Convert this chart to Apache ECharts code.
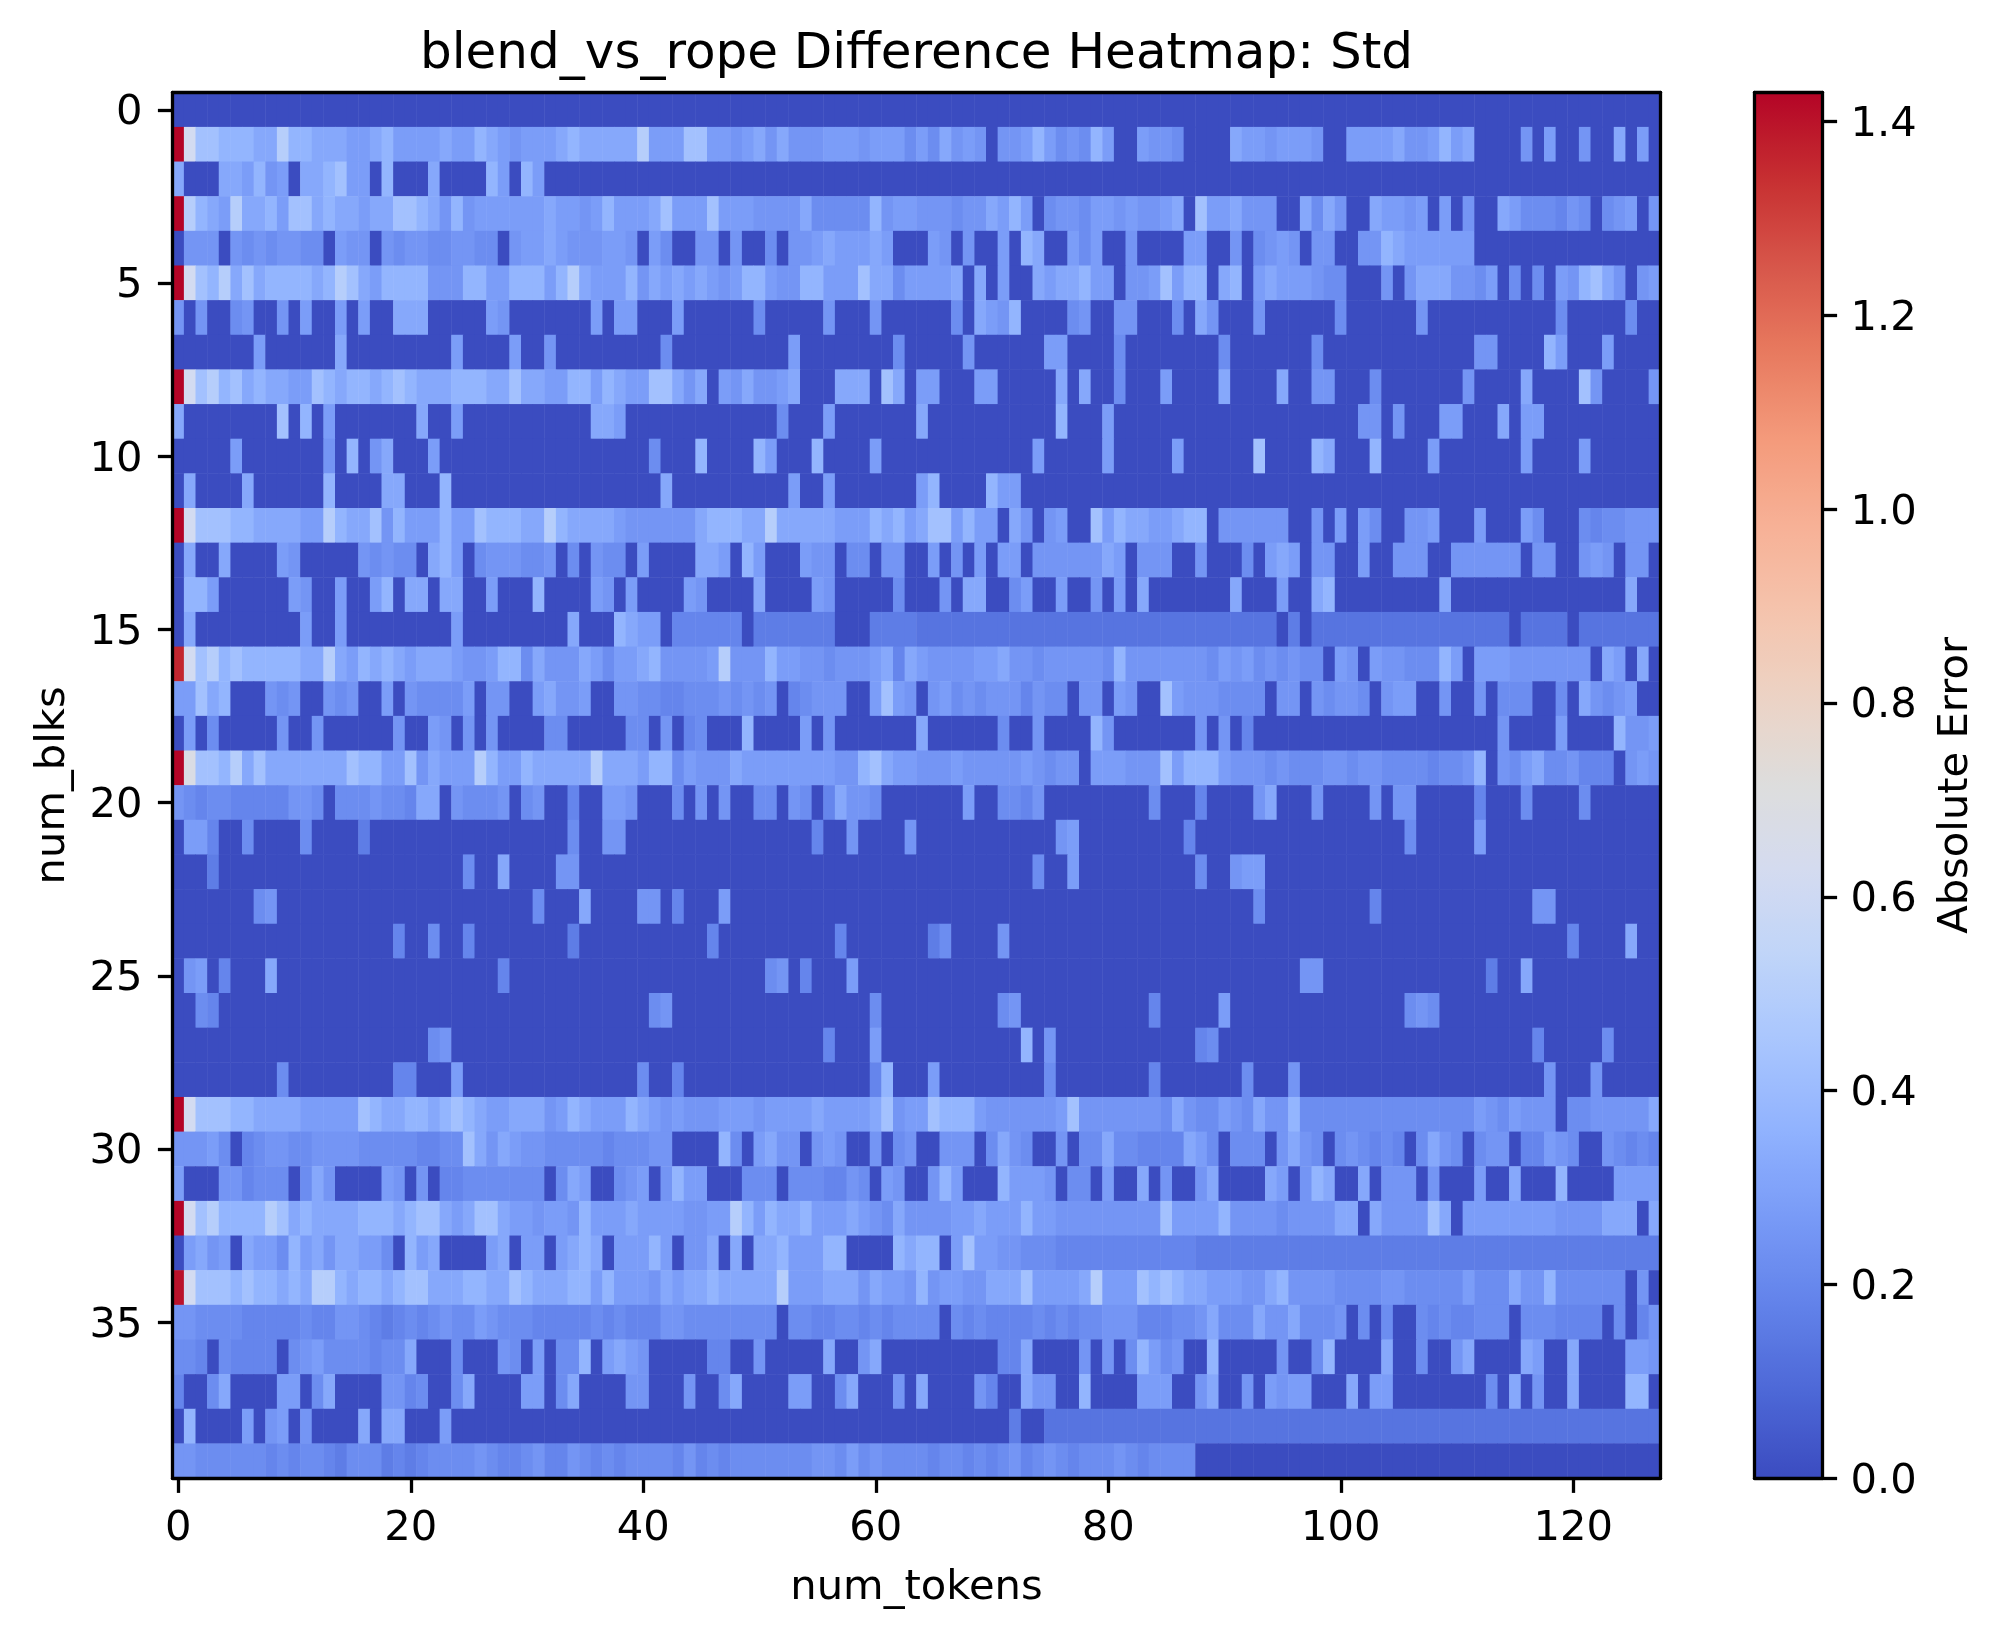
<!DOCTYPE html>
<html><head><meta charset="utf-8">
<style>html,body{margin:0;padding:0;background:#fff}#c{width:2006px;height:1639px}</style>
<script src="https://cdn.jsdelivr.net/npm/echarts@6/dist/echarts.min.js"></script>
</head><body><div id="c"></div>
<script>
// Each character is one cell; levelValues gives its estimated value.
const levelValues = {'0':0,'1':0.13,'2':0.16,'3':0.19,'4':0.22,'5':0.25,'6':0.28,'7':0.32,'8':0.37,'9':0.43,'a':0.5,'b':0.62,'c':0.68,'Q':1.36,'P':1.4,'R':1.43};
const blk00 = "00000000 00000000 00000000 00000000 00000000 00000000 00000000 00000000 00000000 00000000 00000000 00000000 00000000 00000000 00000000 00000000";
const blk01 = "Rb998887 7a887776 67866667 66876566 67877777 a6669966 56757555 66656664 64756505 56864548 60065540 00076656 66500666 67556867 00005060 05007060";
const blk02 = "70007768 56077896 60800070 00086086 00000000 00000000 00000000 00000000 00000000 00000000 00000000 00000000 00000000 00000000 00000000 00000000";
const blk03 = "Ra876a77 86997877 67799875 85666666 76656866 67966696 66555574 44448566 55545576 86045546 65655670 96675550 07475007 66560605 00764443 54045605";
const blk04 = "05550545 45544065 50545544 55440566 76555665 06400550 50040556 76667600 06505006 08700646 00500006 60050456 50550055 87666666 00000000 00000000";
const blk05 = "Rb98a797 888878a9 76888855 58866888 68a76668 57676765 68865588 66697746 66670706 00767786 60556968 80780676 66544000 50577755 46040406 58975056";
const blk06 = "50500450 05060060 60077700 00065000 00006066 00060000 00400000 50005000 00040765 80000450 05500040 75000500 00004000 00050000 00000004 00000400";
const blk07 = "00000006 00000070 00000000 60000600 50000000 00400000 00000600 00000040 00005000 00066000 04000000 00400000 00400000 00000000 55000086 00060000";
const blk08 = "Rb9a8978 77669878 87898777 88877977 66886876 69975706 57556700 07770970 66000660 00007070 04000600 00700007 00550004 00000005 00007000 09500005";
const blk09 = "70000000 09080600 00000700 60000000 00007760 00000000 00004000 60000000 70000000 00008000 60000000 00000000 00000055 05000660 00706600 00000000";
const blk10 = "00000600 00000508 05700060 00000000 00000000 04000800 00860008 00006000 00000000 00600000 60000060 00000900 00870008 00006000 00006000 06000000";
const blk11 = "07000070 00000800 00770008 00000000 00000000 00700000 00000600 60000000 68000086 60000000 00000000 00000000 00000000 00000000 00000000 00000000";
const blk12 = "Rb999887 77766a87 79586668 66988877 a8777765 55555788 877a7777 76668786 79968660 75056009 68776678 80555555 00506064 00556000 60006400 04344555";
const blk13 = "07007000 06500000 54544078 60455544 50405440 60000776 08600065 50440550 06050606 60555555 76055500 50004067 60550060 05550055 55550550 05650550";
const blk14 = "08860000 00650060 06807707 70060008 00006506 00006500 00700006 50000040 00507700 46006005 06070000 00070006 00780000 00000700 00000000 00000700";
const blk15 = "07000000 00060060 00000000 60000000 00700087 66033333 30222222 20002222 11111111 11111111 11111111 11111110 20111111 11111111 11101111 01111111";
const blk16 = "Qb9a8988 88877a76 87876777 65568847 55576466 7855556a 55586655 45556737 65555667 55455555 48555555 54656454 54406506 55444860 66655555 55076070";
const blk17 = "66978000 54500545 00605444 46055006 75560055 44334445 45450345 55006965 05645455 53544055 06500965 55444405 50545540 56600500 50444004 07545600";
const blk18 = "06040000 05005000 00050065 05050000 44000004 40503400 08000060 50000000 70000004 00500008 50000000 50503000 00000000 00000000 00500006 00008556";
const blk19 = "Rc998a79 77777779 88669576 66a86687 7777a777 68846555 76666666 65589766 55565555 56545506 66555968 88655545 44455455 44443445 80546744 53330565";
const blk20 = "54344333 33554044 45443770 54445045 00300665 00040505 00440540 37554000 00006004 43500000 00004000 30000570 00500005 05500000 30004000 04000000";
const blk21 = "06630040 00040000 20000000 00000000 00400550 00000000 00000003 00500005 00000000 00005600 00000003 00000000 00000000 00400000 60000000 00000000";
const blk22 = "00020000 00000000 00000000 04007000 05500000 00000000 00000000 00000000 00000000 00400600 00000000 40056600 00000000 00000000 00000000 00000000";
const blk23 = "00000004 50000000 00000000 00000004 00070000 55030006 00000000 00000000 00000000 00000000 00000000 00000400 00000003 00000000 00000550 00000000";
const blk24 = "00000000 00000000 00030040 03000000 00200000 00000030 00000000 03000000 02400005 00000000 00000000 00000000 00000000 00000000 00000000 30000700";
const blk25 = "05603000 70000000 00000000 00003000 00000000 00000000 00045030 00600000 00000000 00000000 00000000 00000000 05500000 00000000 02007000 00000000";
const blk26 = "00430000 00000000 00000000 00000000 00000000 04500000 00000000 00004000 00000004 50000000 00003000 00600000 00000000 00454000 00000000 00000000";
const blk27 = "00000000 00000000 00000045 00000000 00000000 00000000 00000000 30006000 00000000 08050000 00000000 34000000 00000000 00000000 00000300 00040000";
const blk28 = "00000000 04000000 00033000 60000000 00000000 40030000 00000000 00003800 06000000 00040000 00003000 00004000 50000000 00000000 00000050 00500000";
const blk29 = "Rb999887 77766666 98778878 98766777 56876668 76565556 66566667 66667956 69888655 55556955 55555475 44654755 84444444 44444444 65465550 44555557";
const blk30 = "55564034 55445555 44444334 49757655 44444344 45500008 40675505 65005045 00555047 54005044 74433337 64044405 75404543 43047540 45503365 40054343";
const blk31 = "60005534 44047500 00650503 34444444 04760045 60586600 04440444 33540650 05860008 66650440 60070500 57000076 05870070 55505000 60070008 00006666";
const blk32 = "Rb9a8888 a9787777 88878997 67997665 66586667 66665566 a8687786 66765475 55566766 68665555 55555966 66855554 55557707 55559706 66666665 55577707";
const blk33 = "06756076 64867577 66408670 00067066 06787066 68605570 70778666 88000087 88069665 54443333 33333333 22222222 22222222 22222222 22222222 22222222";
const blk34 = "Pb999898 8787aa87 88789977 78877987 77886866 65767787 7777a666 77757665 85665577 7966667a 66698987 76665578 55554444 55444446 44475584 44444050";
const blk35 = "55444433 33343355 43234345 44654443 33334343 33554444 44440443 34434344 44043433 33434344 55533344 57444755 74445040 40043433 44404443 33304035";
const blk36 = "44304333 30456444 43447000 40005406 04480676 50000033 00500000 70057000 00000003 37000050 50486450 08000005 00480000 70040057 00007600 70000665";
const blk37 = "30047000 06604700 00553400 47000066 04700005 50005004 70000660 04700050 70000530 07550080 00066600 57005065 66000706 60000000 04070500 70000880";
const blk38 = "08000060 56050000 70770006 00000000 00000000 00000000 00000000 00000000 00000000 20011111 11111111 11111111 11111111 11111111 11111111 11111111";
const blk39 = "55444444 34344324 44232344 44543345 33543434 44435343 44444445 54645444 43443434 53454344 45434444 00000000 00000000 00000000 00000000 00000000";
const blkRows = [blk00,blk01,blk02,blk03,blk04,blk05,blk06,blk07,blk08,blk09,blk10,blk11,blk12,blk13,blk14,blk15,blk16,blk17,blk18,blk19,blk20,blk21,blk22,blk23,blk24,blk25,blk26,blk27,blk28,blk29,blk30,blk31,blk32,blk33,blk34,blk35,blk36,blk37,blk38,blk39];
const tokenLabels = Array.from({length:128},(_,i)=>String(i));
const blkLabels = Array.from({length:40},(_,i)=>String(i));
const colorbarTicks = [0,0.2,0.4,0.6,0.8,1.0,1.2,1.4];
const coolwarm = ['#3b4cc0','#4d68d7','#6282ea','#789af7','#90b2fe','#a8c5fe','#bfd4f9','#d4dbf0','#dddddd','#ecd3c5','#f5c4ad','#f7b196','#f49a7b','#e87a5f','#d7564a','#c72f31','#b40426'];

const cells = [];
blkRows.forEach((row,r)=>{
  const s = row.replace(/ /g,'');
  if (s.length !== 128) console.error('row '+r+' length '+s.length);
  for (let k=0;k<128;k++) cells.push([k,r,levelValues[s[k]]||0]);
});

const FS = 41.67, LW = 3.3, TICK = 14.6;
const FF = '"DejaVu Sans"';
const G = {left:172.5, top:92.5, width:1488, height:1385.8};
const line = {show:true,onZero:false,lineStyle:{color:'#000',width:LW}};
const labelRich = {t:{fontFamily:FF,fontSize:FS,color:'#000',padding:[7,0,0,0]}};
const chart = echarts.init(document.getElementById('c'),null,{renderer:'canvas',width:2006,height:1639});
chart.setOption({
  animation:false,
  backgroundColor:'#fff',
  title:{text:'blend_vs_rope Difference Heatmap: Std',left:911.5,top:25,textAlign:'center',
    textStyle:{fontFamily:FF,fontSize:50,fontWeight:'normal',color:'#000'}},
  tooltip:{show:false},
  grid:[
    Object.assign({containLabel:false,show:false},G),
    {left:1754.5,top:92.5,width:68,height:1385.8,show:false}
  ],
  xAxis:[
    {type:'category',gridIndex:0,data:tokenLabels,position:'bottom',z:10,
     name:'num_tokens',nameLocation:'middle',nameGap:89,nameTextStyle:{fontFamily:FF,fontSize:FS,color:'#000'},
     axisLine:line,splitLine:{show:false},
     axisTick:{show:true,alignWithLabel:true,length:TICK,interval:i=>i%20===0,lineStyle:{color:'#000',width:LW}},
     axisLabel:{interval:i=>i%20===0,margin:30,fontFamily:FF,fontSize:FS,color:'#000',hideOverlap:false}},
    {type:'category',gridIndex:0,data:tokenLabels,position:'top',z:10,axisLine:line,axisTick:{show:false},axisLabel:{show:false},splitLine:{show:false}},
    {type:'category',gridIndex:1,data:['c'],position:'bottom',z:10,axisLine:line,axisTick:{show:false},axisLabel:{show:false},splitLine:{show:false}},
    {type:'category',gridIndex:1,data:['c'],position:'top',z:10,axisLine:line,axisTick:{show:false},axisLabel:{show:false},splitLine:{show:false}}
  ],
  yAxis:[
    {type:'category',gridIndex:0,data:blkLabels,inverse:true,position:'left',z:10,
     name:'num_blks',nameLocation:'middle',nameGap:98,nameRotate:90,nameTextStyle:{fontFamily:FF,fontSize:FS,color:'#000'},
     axisLine:line,splitLine:{show:false},
     axisTick:{show:true,alignWithLabel:true,length:TICK,interval:i=>i%5===0,lineStyle:{color:'#000',width:LW}},
     axisLabel:{interval:i=>i%5===0,margin:30,fontFamily:FF,fontSize:FS,color:'#000',hideOverlap:false,formatter:v=>'{t|'+v+'}',rich:labelRich}},
    {type:'category',gridIndex:0,data:blkLabels,inverse:true,position:'right',z:10,axisLine:line,axisTick:{show:false},axisLabel:{show:false},splitLine:{show:false}},
    {type:'value',gridIndex:1,min:0,max:1.43,position:'right',z:10,
     name:'Absolute Error',nameLocation:'middle',nameGap:113,nameRotate:90,nameTextStyle:{fontFamily:FF,fontSize:FS,color:'#000'},
     axisLine:line,splitLine:{show:false},
     axisTick:{show:true,length:TICK,customValues:colorbarTicks,lineStyle:{color:'#000',width:LW}},
     axisLabel:{customValues:colorbarTicks,margin:28,fontFamily:FF,fontSize:FS,color:'#000',formatter:v=>'{t|'+Number(v).toFixed(1)+'}',rich:labelRich}},
    {type:'value',gridIndex:1,min:0,max:1.43,position:'left',z:10,axisLine:line,axisTick:{show:false},axisLabel:{show:false},splitLine:{show:false}}
  ],
  visualMap:{type:'continuous',min:0,max:1.43,seriesIndex:0,calculable:false,realtime:false,
    left:1754.5,top:92.5,itemWidth:68,itemHeight:1385.8,padding:0,text:null,hoverLink:false,
    inRange:{color:coolwarm},textStyle:{color:'transparent',fontSize:1}},
  series:[{type:'heatmap',xAxisIndex:0,yAxisIndex:0,data:cells,progressive:0,silent:true,itemStyle:{borderWidth:0},emphasis:{disabled:true}}]
});
</script></body></html>
